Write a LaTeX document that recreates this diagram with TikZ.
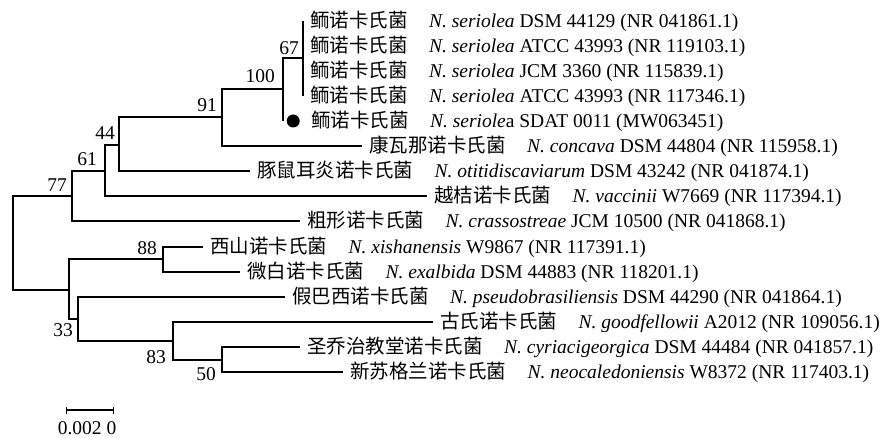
\documentclass[tikz,border=0pt]{standalone}
\usepackage{fontspec}
\setmainfont{Liberation Serif}
\newfontfamily\cjk{Noto Sans CJK SC}
\usetikzlibrary{arrows.meta, positioning}
\tikzset{
  branch/.style={line width=1.2pt},
  taxon/.style={anchor=west, inner xsep=7pt, inner ysep=0pt,
    text height=14pt, text depth=0.5pt, font=\fontsize{19.5}{23}\selectfont},
  boot/.style={inner sep=0pt, font=\fontsize{19.5}{23}\selectfont},
  marker/.style={circle, fill, inner sep=0pt, minimum size=13pt},
  scalebar/.style={line width=1.2pt, {Bar[width=7pt]}-{Bar[width=7pt]}},
}
\newcommand{\taxlab}[3]{{\cjk #1}\hspace{1.1em}\textit{#2} #3}

\begin{document}
\begin{tikzpicture}[x=1pt, y=-1pt]
  \useasboundingbox (0,0) rectangle (893,438);

  % inner nodes
  \coordinate (root) at (13,243);
  \coordinate (n77) at (72,196);
  \coordinate (n61) at (105,171);
  \coordinate (n44) at (119,145);
  \coordinate (n91) at (222,117);
  \coordinate (n100) at (283,89);
  \coordinate (n67) at (303,58);
  \coordinate (nlow) at (69,290);
  \coordinate (n88) at (163,259);
  \coordinate (n33) at (78,319);
  \coordinate (n83) at (173,341);
  \coordinate (n50) at (222,360);

  % leaf tips
  \coordinate (ser1) at (303,21);
  \coordinate (ser2) at (303,46);
  \coordinate (ser3) at (303,71);
  \coordinate (ser4) at (303,96);
  \coordinate (sdat) at (283,121);
  \coordinate (conc) at (362,146);
  \coordinate (otit) at (250,171);
  \coordinate (vacc) at (427,196);
  \coordinate (cras) at (300,221);
  \coordinate (xish) at (203,247);
  \coordinate (exal) at (240,272);
  \coordinate (pseu) at (285,297);
  \coordinate (good) at (433,322);
  \coordinate (cyri) at (300,347);
  \coordinate (neoc) at (343,372);

  % branches
  \draw[branch] (root) |- (n77) (root) |- (nlow);
  \draw[branch] (n77) |- (n61) (n77) |- (cras);
  \draw[branch] (n61) |- (n44) (n61) |- (vacc);
  \draw[branch] (n44) |- (n91) (n44) |- (otit);
  \draw[branch] (n91) |- (n100) (n91) |- (conc);
  \draw[branch] (n100) |- (n67) (n100) |- (sdat);
  \draw[branch] (n67) |- (ser1) (n67) |- (ser2) (n67) |- (ser3) (n67) |- (ser4);
  \draw[branch] (nlow) |- (n88) (nlow) |- (n33);
  \draw[branch] (n88) |- (xish) (n88) |- (exal);
  \draw[branch] (n33) |- (pseu) (n33) |- (n83);
  \draw[branch] (n83) |- (good) (n83) |- (n50);
  \draw[branch] (n50) |- (cyri) (n50) |- (neoc);

  % bootstrap values
  \node[boot, above left=3pt and 4pt of n67] (b67) {67};
  \node[boot, above left=6pt and 8pt of n100] (b100) {100};
  \node[boot, above left=5pt and 5pt of n91] (b91) {91};
  \node[boot, above left=5pt and 4pt of n44] (b44) {44};
  \node[boot, above left=5pt and 8pt of n61] (b61) {61};
  \node[boot, above left=4pt and 5pt of n77] (b77) {77};
  \node[boot, above left=4pt and 6pt of n88] (b88) {88};
  \node[boot, below left=4pt and 5pt of n33] (b33) {33};
  \node[boot, below left=9pt and 7pt of n83] (b83) {83};
  \node[boot, below left=7pt and 6pt of n50] (b50) {50};

  % taxa
  \node[taxon] (ser1lab) at (ser1) {\taxlab{鲕诺卡氏菌}{N. seriolea}{DSM 44129 (NR 041861.1)}};
  \node[taxon] (ser2lab) at (ser2) {\taxlab{鲕诺卡氏菌}{N. seriolea}{ATCC 43993 (NR 119103.1)}};
  \node[taxon] (ser3lab) at (ser3) {\taxlab{鲕诺卡氏菌}{N. seriolea}{JCM 3360 (NR 115839.1)}};
  \node[taxon] (ser4lab) at (ser4) {\taxlab{鲕诺卡氏菌}{N. seriolea}{ATCC 43993 (NR 117346.1)}};
  \node[marker, right=3.5pt of sdat] (sdatdot) {};
  \node[taxon, right=4pt of sdatdot] (sdatlab) {{\cjk 鲕诺卡氏菌}\hspace{1.1em}\textit{N. seriole}a SDAT 0011 (MW063451)};
  \node[taxon] (conclab) at (conc) {\taxlab{康瓦那诺卡氏菌}{N. concava}{DSM 44804 (NR 115958.1)}};
  \node[taxon] (otitlab) at (otit) {\taxlab{豚鼠耳炎诺卡氏菌}{N. otitidiscaviarum}{DSM 43242 (NR 041874.1)}};
  \node[taxon] (vacclab) at (vacc) {\taxlab{越桔诺卡氏菌}{N. vaccinii}{W7669 (NR 117394.1)}};
  \node[taxon] (craslab) at (cras) {\taxlab{粗形诺卡氏菌}{N. crassostreae}{JCM 10500 (NR 041868.1)}};
  \node[taxon] (xishlab) at (xish) {\taxlab{西山诺卡氏菌}{N. xishanensis}{W9867 (NR 117391.1)}};
  \node[taxon] (exallab) at (exal) {\taxlab{微白诺卡氏菌}{N. exalbida}{DSM 44883 (NR 118201.1)}};
  \node[taxon] (pseulab) at (pseu) {\taxlab{假巴西诺卡氏菌}{N. pseudobrasiliensis}{DSM 44290 (NR 041864.1)}};
  \node[taxon] (goodlab) at (good) {\taxlab{古氏诺卡氏菌}{N. goodfellowii}{A2012 (NR 109056.1)}};
  \node[taxon] (cyrilab) at (cyri) {\taxlab{圣乔治教堂诺卡氏菌}{N. cyriacigeorgica}{DSM 44484 (NR 041857.1)}};
  \node[taxon] (neoclab) at (neoc) {\taxlab{新苏格兰诺卡氏菌}{N. neocaledoniensis}{W8372 (NR 117403.1)}};

  % scale bar
  \coordinate (sbl) at (66,410);
  \coordinate (sbr) at (114,410);
  \draw[scalebar] (sbl) -- (sbr);
  \node[boot, anchor=north] (scalelab) at (87,421) {0.002 0};
\end{tikzpicture}
\end{document}
